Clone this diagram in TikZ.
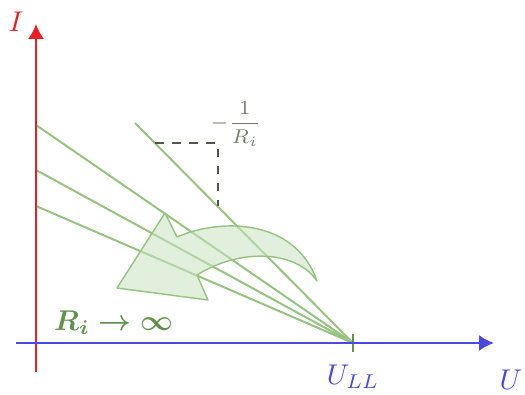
\documentclass[tikz,border=0pt]{standalone}
\usepackage{amsmath,amssymb}
\usepackage{xcolor}
\usepackage{tikz}
\usetikzlibrary{positioning,arrows.meta}
\definecolor{axisred}{RGB}{232,30,36}
\definecolor{axisblue}{RGB}{72,72,228}
\definecolor{linegreen}{RGB}{150,196,128}
\definecolor{darkgreen}{RGB}{98,146,76}
\definecolor{arrowfill}{RGB}{200,226,192}
\definecolor{dashgrey}{RGB}{78,88,72}
\definecolor{labelgrey}{RGB}{112,128,102}
\tikzset{
  iaxis/.style   ={draw=axisred, line width=0.75pt, -{Latex[length=5.2pt,width=5.6pt]}},
  uaxis/.style   ={draw=axisblue, line width=0.75pt, -{Latex[length=5.2pt,width=5.6pt]}},
  kline/.style   ={draw=linegreen, line width=0.7pt},
  tick/.style    ={draw=darkgreen, line width=0.6pt},
  slope/.style   ={draw=dashgrey, dashed, line width=0.55pt},
  bigarrow/.style={draw=linegreen, fill=arrowfill, fill opacity=0.55, line width=0.5pt, line join=round},
}

\begin{document}
\begin{tikzpicture}[x=0.35pt,y=-0.35pt]
\useasboundingbox (0,0) rectangle (525,394);
% ---------- points ----------
\coordinate (O)   at (36,343);
\coordinate (ULL) at (353,343);
\coordinate (a1)  at (36,125);
\coordinate (a2)  at (36,170);
\coordinate (a3)  at (36,206);
\coordinate (s0)  at (135,123);

% ---------- characteristic lines ----------
\foreach \p in {a1,a2,a3,s0}{
  \draw[kline] (\p) -- (ULL);
}
\draw[tick] (ULL) ++(0,-9) -- ++(0,18);

% ---------- slope triangle ----------
\coordinate (sA) at (155,143);
\coordinate (sB) at (218,143);
\coordinate (sC) at (218,206);
\draw[slope] (sA) -- (sB) -- (sC);
\node[text=labelgrey,font=\scriptsize] (slab) at (236,124) {$-\dfrac{1}{R_i}$};

% ---------- curved arrow ----------
\draw[bigarrow] (165,213) -- (177,237) .. controls (220,218) and (295,218) .. (317,281)
  .. controls (296,250) and (240,248) .. (197,275) -- (208,300) -- (117,288) -- cycle;

% ---------- axes ----------
\coordinate (Ibot) at (36,372);
\coordinate (Itop) at (36,24);
\coordinate (Ulft) at (16,343);
\coordinate (Urgt) at (494,343);
\draw[iaxis] (Ibot) -- (Itop);
\draw[uaxis] (Ulft) -- (Urgt);

% ---------- labels ----------
\node[text=axisred] (labI) at (16,22) {$I$};
\node[text=axisblue] (labU) at (511,380) {$U$};
\node[text=axisblue] (labULL) at (353,377) {$U_{LL}$};
\node[text=darkgreen,font=\boldmath] (labR) at (114,323) {$R_i \to \infty$};
\end{tikzpicture}
\end{document}
